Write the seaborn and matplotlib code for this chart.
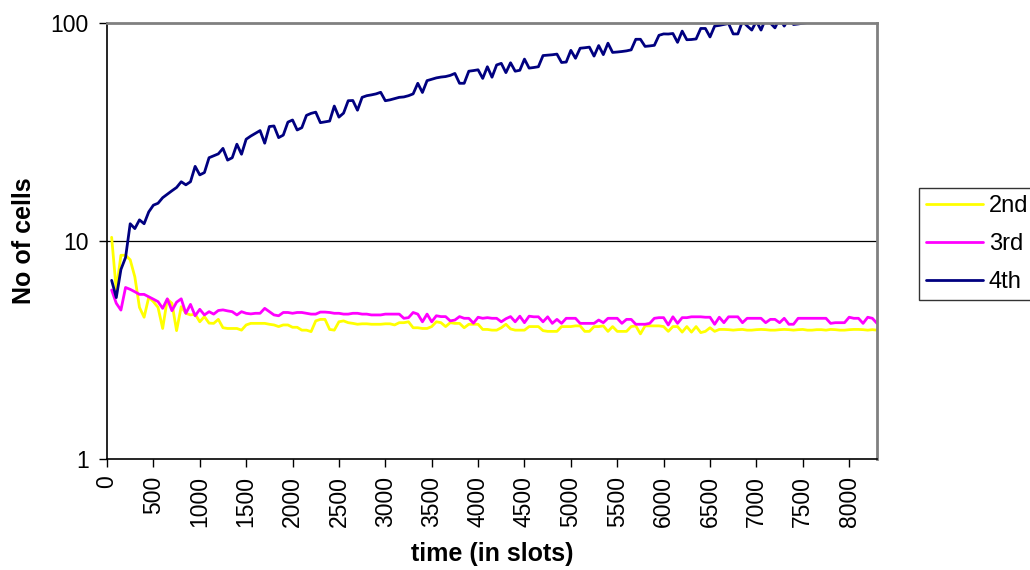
import matplotlib
matplotlib.use("Agg")
import matplotlib.pyplot as plt
import numpy as np
import pandas as pd
import seaborn as sns
from matplotlib.ticker import FixedLocator, LogLocator, NullFormatter

# time axis: one sample every 50 slots
slots = list(range(50, 8301, 50))

second = [
    10.4, 5.96, 8.6, 8.6, 8.2, 6.85, 4.96, 4.47, 5.52, 5.27,
    4.96, 3.97, 5.41, 5.18, 3.88, 5.0, 4.66, 4.58, 4.62, 4.26,
    4.5, 4.2, 4.19, 4.37, 4.0, 3.97, 3.97, 3.97, 3.9, 4.12,
    4.19, 4.19, 4.19, 4.19, 4.15, 4.12, 4.05, 4.12, 4.12, 4.02,
    4.02, 3.9, 3.9, 3.84, 4.3, 4.37, 4.37, 3.93, 3.9, 4.26,
    4.3, 4.22, 4.19, 4.15, 4.17, 4.17, 4.15, 4.15, 4.15, 4.17,
    4.17, 4.12, 4.22, 4.22, 4.26, 4.0, 4.0, 3.97, 3.97, 4.05,
    4.26, 4.22, 4.05, 4.22, 4.19, 4.19, 4.0, 4.15, 4.15, 4.15,
    3.93, 3.93, 3.9, 3.9, 4.0, 4.15, 3.95, 3.9, 3.9, 3.9,
    4.05, 4.05, 4.05, 3.88, 3.85, 3.85, 3.85, 4.05, 4.05, 4.05,
    4.08, 4.08, 3.85, 3.85, 4.05, 4.05, 4.08, 3.85, 4.05, 3.85,
    3.85, 3.85, 4.05, 4.08, 3.75, 4.08, 4.08, 4.08, 4.08, 4.05,
    3.85, 4.05, 4.05, 3.82, 4.05, 3.82, 4.05, 3.8, 3.85, 4.0,
    3.85, 3.93, 3.93, 3.92, 3.9, 3.92, 3.93, 3.9, 3.9, 3.92,
    3.93, 3.92, 3.9, 3.9, 3.92, 3.93, 3.92, 3.9, 3.92, 3.93,
    3.9, 3.9, 3.92, 3.92, 3.9, 3.93, 3.92, 3.9, 3.9, 3.92,
    3.93, 3.93, 3.92, 3.9, 3.92, 3.9,
]

third = [
    5.96, 5.18, 4.82, 6.12, 6.0, 5.85, 5.69, 5.69, 5.55, 5.41,
    5.27, 4.91, 5.43, 4.79, 5.24, 5.43, 4.66, 5.12, 4.54, 4.86,
    4.58, 4.74, 4.62, 4.8, 4.83, 4.78, 4.74, 4.58, 4.74, 4.66,
    4.63, 4.66, 4.66, 4.91, 4.74, 4.58, 4.54, 4.7, 4.7, 4.66,
    4.7, 4.7, 4.66, 4.62, 4.62, 4.72, 4.72, 4.7, 4.66, 4.66,
    4.62, 4.62, 4.66, 4.66, 4.62, 4.62, 4.58, 4.58, 4.58, 4.62,
    4.62, 4.62, 4.62, 4.42, 4.45, 4.7, 4.62, 4.26, 4.62, 4.26,
    4.54, 4.5, 4.5, 4.3, 4.34, 4.5, 4.42, 4.42, 4.2, 4.47,
    4.42, 4.45, 4.42, 4.42, 4.26, 4.4, 4.5, 4.26, 4.52, 4.22,
    4.52, 4.49, 4.49, 4.26, 4.49, 4.19, 4.37, 4.19, 4.42, 4.42,
    4.42, 4.19, 4.19, 4.19, 4.19, 4.34, 4.22, 4.42, 4.42, 4.42,
    4.19, 4.37, 4.37, 4.15, 4.15, 4.15, 4.19, 4.42, 4.45, 4.45,
    4.12, 4.49, 4.19, 4.45, 4.45, 4.49, 4.49, 4.49, 4.47, 4.47,
    4.15, 4.47, 4.22, 4.49, 4.49, 4.49, 4.22, 4.42, 4.42, 4.42,
    4.42, 4.22, 4.37, 4.37, 4.22, 4.42, 4.15, 4.15, 4.42, 4.42,
    4.42, 4.42, 4.42, 4.42, 4.42, 4.19, 4.22, 4.22, 4.22, 4.47,
    4.42, 4.42, 4.19, 4.47, 4.42, 4.19,
]

fourth = [
    6.6, 5.5, 7.4, 8.4, 12.0, 11.4, 12.5, 12.0, 13.6, 14.6,
    14.9, 15.8, 16.4, 17.0, 17.6, 18.7, 18.1, 18.7, 22.0, 20.1,
    20.6, 24.1, 24.6, 25.1, 26.6, 23.5, 24.1, 27.8, 25.0, 29.3,
    30.3, 31.2, 32.1, 28.1, 33.5, 33.7, 29.8, 30.6, 35.1, 35.9,
    32.3, 33.1, 37.7, 38.5, 39.0, 34.9, 35.2, 35.5, 41.6, 37.0,
    38.6, 44.0, 44.1, 39.8, 45.6, 46.4, 46.8, 47.3, 48.1, 44.0,
    44.4, 45.0, 45.6, 45.8, 46.4, 47.3, 52.9, 48.0, 54.4, 55.2,
    56.0, 56.5, 56.8, 57.5, 58.7, 52.9, 52.9, 60.1, 60.5, 61.0,
    55.7, 63.0, 56.4, 64.2, 65.3, 59.2, 65.7, 60.1, 60.7, 68.3,
    62.1, 62.5, 63.0, 70.9, 71.2, 71.5, 72.0, 65.9, 66.2, 74.9,
    68.9, 76.6, 77.0, 77.5, 70.5, 78.8, 71.6, 80.8, 73.3, 73.6,
    74.0, 74.5, 75.3, 84.2, 84.2, 78.1, 78.5, 79.0, 87.8, 89.1,
    89.0, 89.5, 81.5, 91.8, 83.8, 84.0, 84.5, 94.4, 94.4, 86.3,
    96.8, 97.5, 98.5, 99.5, 89.1, 89.1, 102, 97, 92.8, 102,
    92.8, 105, 100, 95, 105, 96.8, 105, 98.4, 99.0, 99.8,
    100.5, 103, 106, 102, 108, 104, 107, 110, 105, 109,
    112, 106, 111, 108, 113, 110,
]

series_names = ["2nd", "3rd", "4th"]
series_colors = ["#FFFF00", "#FF00FF", "#000080"]
x_ticks = list(range(0, 8001, 500))
y_ticks = [1, 10, 100]

df = pd.DataFrame({
    "slot": slots * 3,
    "cells": second + third + fourth,
    "series": [n for n in series_names for _ in slots],
})

sns.set_style("white")
plt.rcParams["font.family"] = ["Liberation Sans", "DejaVu Sans"]
plt.rcParams["text.color"] = "black"
plt.rcParams["axes.labelcolor"] = "black"
plt.rcParams["xtick.color"] = "black"
plt.rcParams["ytick.color"] = "black"

fig = plt.figure(figsize=(10.3, 5.7), dpi=100)
ax = fig.add_axes([107 / 1030, 1 - 459 / 570, 770 / 1030, 436 / 570])

sns.lineplot(data=df, x="slot", y="cells", hue="series", hue_order=series_names,
             palette=series_colors, linewidth=2.0, ax=ax, legend=True)

ax.set_yscale("log")
ax.set_ylim(1, 100)
ax.set_xlim(0, 8300)

ax.axhline(10, color="black", linewidth=0.9, zorder=0)

ax.xaxis.set_major_locator(FixedLocator(x_ticks))
ax.set_xticklabels([str(t) for t in x_ticks], rotation=90, fontsize=16.5)
ax.yaxis.set_major_locator(FixedLocator(y_ticks))
ax.set_yticklabels([str(t) for t in y_ticks], fontsize=16.5)
ax.yaxis.set_minor_locator(LogLocator(base=10, subs=np.arange(2, 10)))
ax.yaxis.set_minor_formatter(NullFormatter())
ax.tick_params(axis="both", which="both", direction="out", color="black",
               labelcolor="black", length=6, width=1)
ax.tick_params(axis="x", which="major", pad=6)
ax.tick_params(axis="y", which="major", pad=7)
ax.tick_params(left=True, bottom=True)

for side in ["left", "bottom"]:
    ax.spines[side].set_color("black")
    ax.spines[side].set_linewidth(1.2)
for side in ["top", "right"]:
    ax.spines[side].set_color("#808080")
    ax.spines[side].set_linewidth(2)

ax.set_xlabel("time (in slots)", fontsize=18, fontweight="bold", va="top", color="black")
ax.set_ylabel("No of cells", fontsize=18, fontweight="bold", color="black")
ax.xaxis.set_label_coords(0.5, (459 - 542) / 436)
ax.yaxis.set_label_coords((36 - 107) / 770, 0.5)

handles, labels = ax.get_legend_handles_labels()
leg = ax.legend(handles, labels, loc="upper left",
                bbox_to_anchor=(919 / 1030, 1 - 188 / 570),
                bbox_transform=fig.transFigure, borderaxespad=0,
                fontsize=17, handlelength=2.4, handletextpad=0.25,
                labelspacing=0.68, borderpad=0.3, fancybox=False,
                frameon=True, title=None)
leg.get_frame().set_edgecolor("black")
leg.get_frame().set_linewidth(1)
for text in leg.get_texts():
    text.set_color("black")
for line in leg.get_lines():
    line.set_linewidth(2.0)

fig.savefig("out.png", dpi=100)
